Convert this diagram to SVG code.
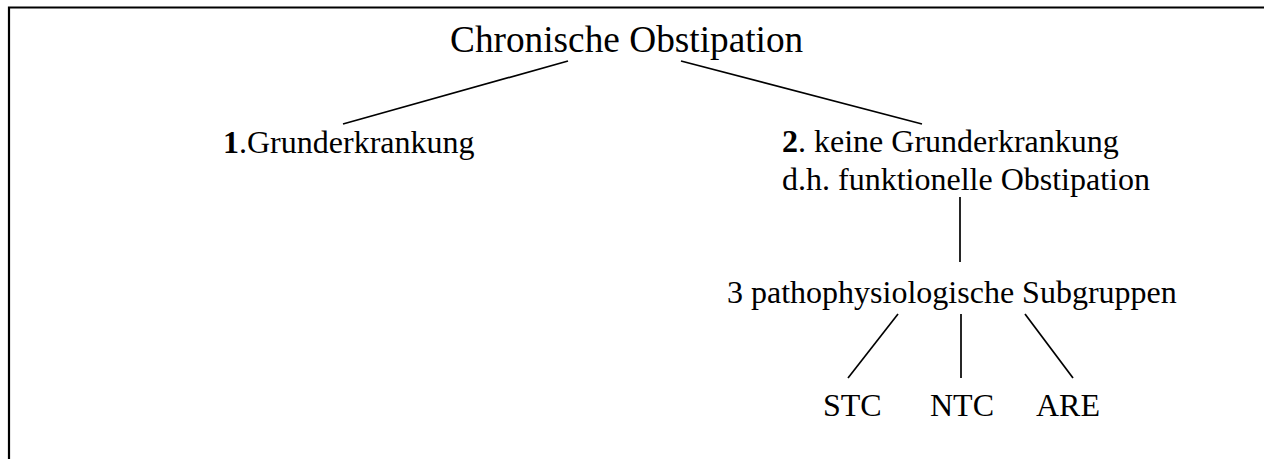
<svg xmlns="http://www.w3.org/2000/svg" width="1264" height="459" viewBox="0 0 1264 459">
<style>
text{font-family:"Liberation Serif","Times New Roman",serif;fill:#000;font-size:32px}
.t{font-size:37.3px}
.b{font-weight:bold}
.c line{stroke:#000;stroke-width:1.7;fill:none}
.f{stroke:#000;stroke-width:2.2;fill:none}
</style>
<rect width="1264" height="459" fill="#fff"/>
<path class="f" d="M9,459 V7.5 H1264"/>
<g class="c" id="connectors">
<line x1="568" y1="61" x2="343" y2="124"/>
<line x1="681" y1="61" x2="922" y2="124"/>
<line x1="960" y1="197" x2="960" y2="262"/>
<line x1="898" y1="314" x2="848" y2="378"/>
<line x1="961" y1="314" x2="961" y2="378"/>
<line x1="1025" y1="314" x2="1073" y2="378"/>
</g>
<g id="root"><text class="t" x="450" y="52">Chronische Obstipation</text></g>
<g id="n1"><text x="223" y="153"><tspan class="b">1</tspan>.Grunderkrankung</text></g>
<g id="n2"><text x="782" y="152"><tspan class="b">2</tspan>. keine Grunderkrankung</text><text x="782" y="190">d.h. funktionelle Obstipation</text></g>
<g id="n3"><text x="727" y="303">3 pathophysiologische Subgruppen</text></g>
<g id="stc"><text x="823" y="416">STC</text></g>
<g id="ntc"><text x="930" y="416">NTC</text></g>
<g id="are"><text x="1036" y="416">ARE</text></g>
</svg>
